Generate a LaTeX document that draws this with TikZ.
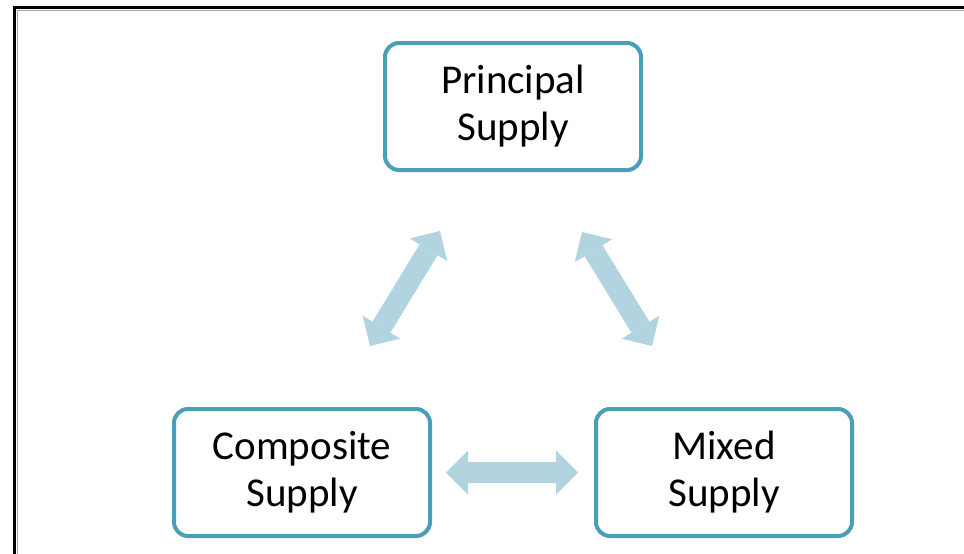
\documentclass[tikz,border=0pt]{standalone}
\usepackage{fontspec}
\setmainfont{Carlito}
\usetikzlibrary{arrows.meta}
\definecolor{boxline}{HTML}{4A9FB8}
\definecolor{arrowfill}{HTML}{B1D4E0}
\begin{document}
\begin{tikzpicture}[x=1pt,y=-1pt,
  supply/.style={draw=boxline, line width=4pt, rounded corners=14pt, fill=white,
    minimum width=256pt, minimum height=127pt, align=center,
    font=\fontsize{41}{47}\selectfont, text=black, inner sep=0pt},
  fattip/.tip={Triangle[length=22pt,width=44pt,line width=0pt]},
  fatarrow/.style={draw=arrowfill, line width=21pt, fattip-fattip}]
\useasboundingbox (0,0) rectangle (964,554);
\fill[white] (0,0) rectangle (964,554);
\draw[line width=3.5pt] (14.5,600) -- (14.5,7.5) -- (1000,7.5);
\draw[line width=1pt, black!35] (17,600) -- (17,10) -- (1000,10);
\node[supply] (prin) at (513,106.5) {Principal\\Supply};
\node[supply] (comp) at (302,472.5) {Composite\\Supply};
\node[supply] (mix) at (724,472.5) {Mixed\\Supply};
\coordinate (l1) at (370,346);
\coordinate (l2) at (440,231);
\coordinate (r1) at (582,232);
\coordinate (r2) at (652,346);
\draw[fatarrow] (l1) -- (l2);
\draw[fatarrow] (r1) -- (r2);
\draw[fatarrow, shorten <=14pt, shorten >=16pt] (comp.east) -- (mix.west);
\end{tikzpicture}
\end{document}
